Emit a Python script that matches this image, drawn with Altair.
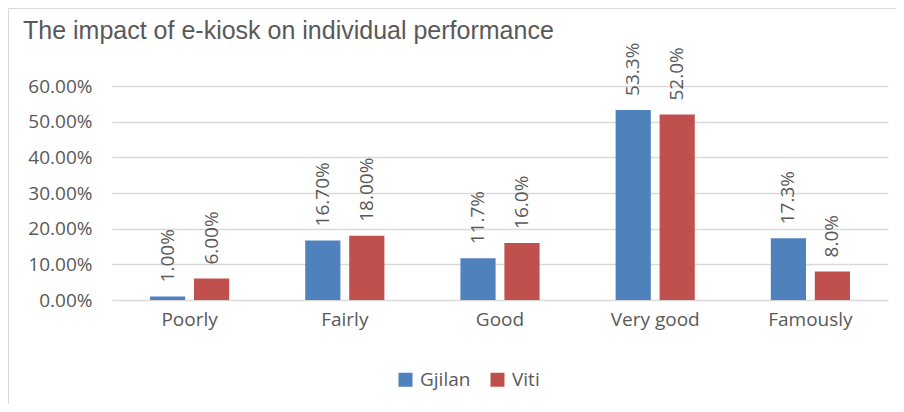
import altair as alt
import pandas as pd

categories = ["Poorly", "Fairly", "Good", "Very good", "Famously"]
series_names = ["Gjilan", "Viti"]
gjilan = [0.01, 0.167, 0.117, 0.533, 0.173]
viti = [0.06, 0.18, 0.16, 0.52, 0.08]
gjilan_labels = ["1.00%", "16.70%", "11.7%", "53.3%", "17.3%"]
viti_labels = ["6.00%", "18.00%", "16.0%", "52.0%", "8.0%"]
y_ticks = [0, 0.1, 0.2, 0.3, 0.4, 0.5, 0.6]

rows = []
for c, v, l in zip(categories, gjilan, gjilan_labels):
    rows.append({"category": c, "series": "Gjilan", "value": v, "label": l})
for c, v, l in zip(categories, viti, viti_labels):
    rows.append({"category": c, "series": "Viti", "value": v, "label": l})
df = pd.DataFrame(rows)

TXT = "#595959"
FONT = "Open Sans"

x_enc = alt.X("category:N", sort=categories, title=None,
              scale=alt.Scale(paddingInner=0.49, paddingOuter=0.245),
              axis=alt.Axis(labelAngle=0, labelFontSize=19, labelColor=TXT, labelFont=FONT,
                            labelPadding=10, ticks=False, domain=False, grid=False))
y_enc = alt.Y("value:Q", title=None, scale=alt.Scale(domain=[0, 0.6], nice=False),
              axis=alt.Axis(format=".2%", values=y_ticks, labelFontSize=19, labelColor=TXT,
                            labelFont=FONT, labelPadding=20, ticks=False, domain=False,
                            labelOverlap=False,
                            grid=True, gridColor="#d9d9d9", gridWidth=1.3))
xo = alt.XOffset("series:N", sort=series_names, scale=alt.Scale(paddingInner=0.2, paddingOuter=0))

base = alt.Chart(df)
bars = base.mark_bar().encode(
    x=x_enc, y=y_enc, xOffset=xo,
    color=alt.Color("series:N", sort=series_names, title=None,
                    scale=alt.Scale(domain=series_names, range=["#4F81BD", "#C0504D"]),
                    legend=alt.Legend(orient="none", legendX=284, legendY=284, direction="horizontal",
                                      symbolType="square", symbolSize=196, symbolStrokeWidth=0,
                                      labelFontSize=19, labelColor=TXT, labelFont=FONT,
                                      labelOffset=5, columnPadding=17)),
)
labels = base.mark_text(angle=270, align="left", baseline="middle", dx=14,
                        fontSize=19, font=FONT, color=TXT).encode(
    x=x_enc, y=y_enc, xOffset=xo, text="label:N")

border = alt.Chart(pd.DataFrame({"a": [0]})).mark_rect(fill=None, stroke="#d9d9d9", strokeWidth=1).encode(
    x=alt.value(-103.5), x2=alt.value(900), y=alt.value(-77.5), y2=alt.value(400))

chart = alt.layer(border, bars, labels).properties(
    width=776, height=214,
    title=alt.TitleParams("The impact of e-kiosk on individual performance", anchor="start",
                          frame="group", dx=-89, dy=60, fontSize=25, font="Liberation Sans",
                          color=TXT, fontWeight="normal", baseline="alphabetic", offset=4),
    autosize=alt.AutoSizeParams(type="none"),
    padding={"left": 104, "top": 78, "right": 8, "bottom": 104},
).configure(background="white").configure_view(strokeWidth=0, stroke="transparent")

chart.save("out.html", embed_options={"renderer": "svg", "actions": False})
